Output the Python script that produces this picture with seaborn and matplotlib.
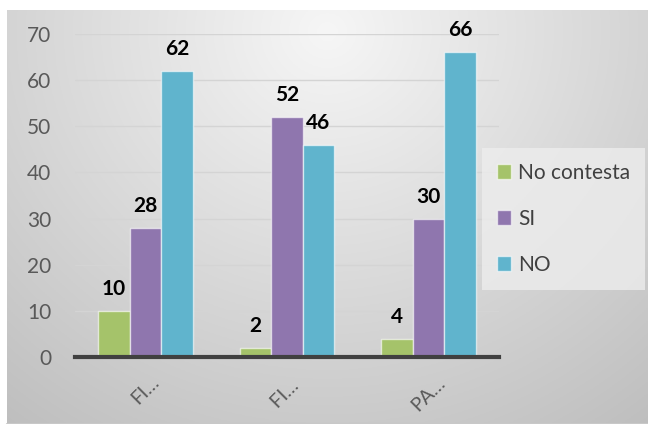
import numpy as np
import pandas as pd
import matplotlib
matplotlib.use("Agg")
import matplotlib.pyplot as plt
import seaborn as sns

categories = ["FI…", "FI… ", "PA…"]
no_contesta = [10, 2, 4]
si = [28, 52, 30]
no = [62, 46, 66]
series_names = ["No contesta", "SI", "NO"]
colors = ["#a5c36a", "#8f76ae", "#60b4cd"]
y_ticks = [0, 10, 20, 30, 40, 50, 60, 70]

rows = []
for cat, a, b, c in zip(categories, no_contesta, si, no):
    rows.append((cat, series_names[0], a))
    rows.append((cat, series_names[1], b))
    rows.append((cat, series_names[2], c))
df = pd.DataFrame(rows, columns=["cat", "serie", "valor"])

sns.set_theme(style="white")
plt.rcParams['font.family'] = ['Lato', 'DejaVu Sans']

W, H = 648, 424
fig = plt.figure(figsize=(W / 100, H / 100), dpi=100)
fig.patch.set_facecolor("white")

# gradient background
bg = fig.add_axes([7 / W, 0, 1 - 7 / W, 1 - 10 / H], zorder=-5)
yy, xx = np.mgrid[0:1:200j, 0:1:300j]
d = np.sqrt(((xx - 0.5) / 0.75) ** 2 + ((yy - 0.05) / 1.1) ** 2)
g = 0.965 - 0.2 * np.clip(d, 0, 1.2)
img = np.dstack([g, g, g])
bg.imshow(img, aspect="auto", extent=[0, 1, 1, 0])
bg.set_axis_off()
bg.plot([0, 1], [0.0, 0.0], color="#c8c8c8", lw=1.5, transform=bg.transAxes, clip_on=False)

ax = fig.add_axes([75 / W, 1 - 357 / H, (499 - 75) / W, (357 - 34) / H])
ax.set_facecolor("none")
sns.barplot(data=df, x="cat", y="valor", hue="serie", palette=colors,
            width=0.67, gap=0.0, ax=ax, saturation=1, zorder=3,
            edgecolor=(1, 1, 1, 0.6), linewidth=1.0, legend=True)

ax.set_ylim(0, 70)
ax.set_xlim(-0.5, 2.5)
ax.set_yticks(y_ticks)
ax.set_yticklabels([str(v) for v in y_ticks], fontsize=15, color="#595959")
ax.set_xticks(range(3))
ax.set_xticklabels(categories, rotation=45, fontsize=14, color="#595959",
                   ha="center", va="top")
ax.tick_params(axis="x", pad=12, length=0)
ax.tick_params(axis="y", pad=17, length=0)
ax.set_xlabel("")
ax.set_ylabel("")
for v in y_ticks[1:]:
    ax.axhline(v, color="#d4d4d4", lw=1.0, zorder=1)
for s in ["top", "right", "left"]:
    ax.spines[s].set_visible(False)
ax.spines["bottom"].set_color("#404040")
ax.spines["bottom"].set_linewidth(3)
ax.spines["bottom"].set_zorder(4)

for cont in ax.containers:
    for bar in cont:
        h = bar.get_height()
        ax.annotate(f"{h:.0f}", (bar.get_x() + bar.get_width() / 2, h),
                    xytext=(0, 11.5), textcoords="offset points",
                    ha="center", va="baseline", fontsize=15, fontweight="bold",
                    color="black", zorder=5)

handles, labels = ax.get_legend_handles_labels()
leg = ax.legend(handles, labels, loc="center left",
                bbox_to_anchor=(482 / W, 1 - 219 / H), bbox_transform=fig.transFigure,
                frameon=True, fontsize=15, handlelength=0.7, handleheight=0.7,
                handletextpad=0.35, labelspacing=1.25, borderpad=0.7,
                borderaxespad=0, fancybox=False)
leg.get_frame().set_facecolor((0.93, 0.93, 0.93, 0.6))
leg.get_frame().set_edgecolor("none")
for t in leg.get_texts():
    t.set_color("#404040")

fig.savefig("out.png", dpi=100)
